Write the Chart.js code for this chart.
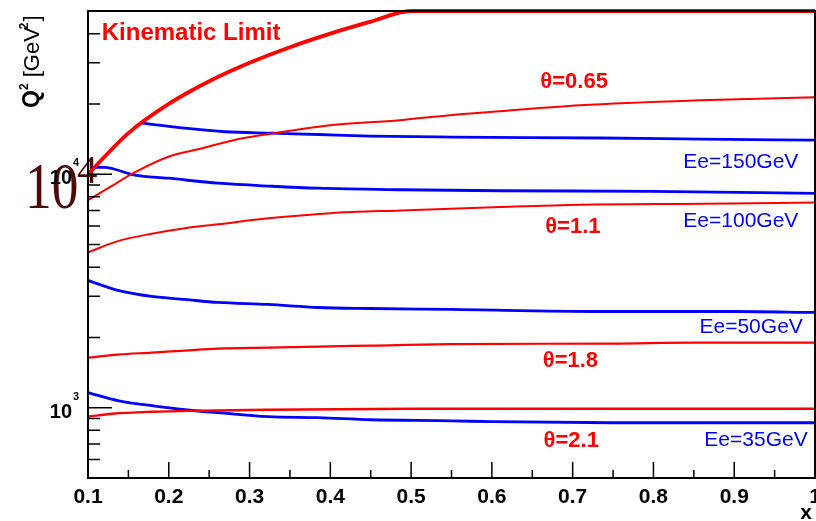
<!DOCTYPE html>
<html>
<head>
<meta charset="utf-8">
<script src="https://cdn.jsdelivr.net/npm/chart.js@4.4.0/dist/chart.umd.min.js"></script>
<style>
html,body{margin:0;padding:0;background:#fff;}
#wrap{width:816px;height:521px;position:relative;}
</style>
</head>
<body>
<div id="wrap"><canvas id="c" width="816" height="521"></canvas></div>
<script>
// ---- data (x = Bjorken x, values = Q^2 in GeV^2) ----
const xKin   = [0.1, 0.15, 0.2, 0.25, 0.3, 0.35, 0.4, 0.45, 0.5, 1.0];
const qKin   = [10000, 15000, 20000, 25000, 30000, 35000, 40000, 45000, 50000, 50000];

const xTh065 = [0.1, 0.127, 0.156, 0.198, 0.239, 0.28, 0.322, 0.363, 0.4, 0.486, 0.548, 0.61, 0.709, 0.858, 1.0];
const qTh065 = [7740, 8796, 10100, 11826, 12858, 13984, 14839, 15582, 16211, 17031, 17892, 18617, 19749, 20746, 21371];

const xTh11  = [0.1, 0.137, 0.179, 0.22, 0.261, 0.323, 0.4, 0.487, 0.611, 0.71, 0.86, 1.0];
const qTh11  = [4625, 5170, 5560, 5870, 6100, 6470, 6810, 7000, 7240, 7400, 7470, 7560];

const xTh18  = [0.1, 0.137, 0.179, 0.22, 0.261, 0.323, 0.385, 0.45, 0.55, 0.75, 0.85, 1.0];
const qTh18  = [1639, 1689, 1722, 1757, 1792, 1809, 1827, 1845, 1873, 1883, 1901, 1901];

const xTh21  = [0.1, 0.13, 0.18, 0.24, 0.32, 0.5, 1.0];
const qTh21  = [915, 942, 961, 971, 980, 990, 990];

const xE150  = [0.167, 0.22, 0.27, 0.328, 0.385, 0.45, 0.55, 0.735, 0.86, 1.0];
const qE150  = [16560, 15750, 15200, 14990, 14790, 14560, 14420, 14290, 14140, 13990];

const xE100  = [0.105, 0.12, 0.158, 0.199, 0.261, 0.328, 0.385, 0.487, 0.611, 0.797, 1.0];
const qE100  = [10700, 10700, 9900, 9612, 9150, 8880, 8710, 8580, 8495, 8450, 8285];

const xE50   = [0.1, 0.137, 0.179, 0.22, 0.261, 0.323, 0.385, 0.45, 0.55, 0.735, 0.9, 1.0];
const qE50   = [3510, 3180, 2995, 2908, 2824, 2768, 2686, 2660, 2635, 2583, 2583, 2558];

const xE35   = [0.1, 0.137, 0.179, 0.22, 0.261, 0.323, 0.385, 0.45, 0.55, 0.6, 0.75, 1.0];
const qE35   = [1160, 1072, 1020, 980, 952, 915, 906, 888, 879, 871, 862, 862];

const xTickLabels = ['0.1','0.2','0.3','0.4','0.5','0.6','0.7','0.8','0.9','1'];
const xTickValues = [0.1,0.2,0.3,0.4,0.5,0.6,0.7,0.8,0.9,1.0];
const yTickValues = [1000, 10000];
const yTickExps   = ['3', '4'];

// curve labels: text, anchor x value, anchor Q^2 value (text baseline, left edge)
const labelTexts = ['Kinematic Limit','θ=0.65','Ee=150GeV','θ=1.1','Ee=100GeV','Ee=50GeV','θ=1.8','θ=2.1','Ee=35GeV'];
const labelX     = [0.117, 0.66, 0.837, 0.666, 0.837, 0.857, 0.663, 0.664, 0.863];
const labelQ     = [37530, 23340, 10610, 5588, 5930, 2084, 1491, 677, 684];
const labelColor = ['red','red','blue','red','blue','blue','red','red','blue'];

const RED = '#ff0000', BLUE = '#0000ff';
function pts(xs, qs){ return xs.map((x,i)=>({x:x, y:qs[i]})); }

function ds(xs, qs, color, w){
  return {data: pts(xs,qs), borderColor: color, backgroundColor: color, borderWidth: w,
          showLine: true, pointRadius: 0, cubicInterpolationMode: 'monotone', fill: false, clip: false};
}

const SANS = '"Liberation Sans", Arial, Helvetica, sans-serif';
const SERIF = '"Liberation Serif", "Times New Roman", serif';

const rootStyle = {
  id: 'rootStyle',
  beforeDraw(chart){
    const ctx = chart.ctx, y = chart.scales.y;
    // large overlaid serif "10^4"
    ctx.save();
    ctx.fillStyle = '#4f0a0a';
    const py = y.getPixelForValue(10000);
    ctx.save();
    ctx.translate(25, py + 34);
    ctx.scale(0.82, 1);
    ctx.font = '65px ' + SERIF;
    ctx.textBaseline = 'alphabetic';
    ctx.fillText('10', 0, 0);
    ctx.restore();
    ctx.font = '41px ' + SERIF;
    ctx.fillText('4', 77, py + 9);
    ctx.restore();
  },
  afterDraw(chart){
    const ctx = chart.ctx, a = chart.chartArea, xs = chart.scales.x, ys = chart.scales.y;
    ctx.save();
    // frame
    ctx.strokeStyle = '#000'; ctx.lineWidth = 2;
    ctx.strokeRect(a.left, a.top, a.right - a.left, a.bottom - a.top);
    // x ticks (inside)
    ctx.lineWidth = 1.5;
    ctx.beginPath();
    for (let i = 0; i < xTickValues.length; i++){
      const p = xs.getPixelForValue(xTickValues[i]);
      ctx.moveTo(p, a.bottom); ctx.lineTo(p, a.bottom - 16);
      if (i < xTickValues.length - 1){
        const m = xs.getPixelForValue(xTickValues[i] + 0.05);
        ctx.moveTo(m, a.bottom); ctx.lineTo(m, a.bottom - 8);
      }
    }
    // y ticks (inside)
    const minors = [600,700,800,900,2000,3000,4000,5000,6000,7000,8000,9000,20000,30000,40000];
    minors.forEach(v => { const p = ys.getPixelForValue(v); ctx.moveTo(a.left, p); ctx.lineTo(a.left + 12, p); });
    yTickValues.forEach(v => { const p = ys.getPixelForValue(v); ctx.moveTo(a.left, p); ctx.lineTo(a.left + 24, p); });
    ctx.stroke();

    // x tick labels
    ctx.fillStyle = '#000';
    ctx.font = 'bold 21px ' + SANS;
    ctx.textAlign = 'center'; ctx.textBaseline = 'alphabetic';
    xTickLabels.forEach((t,i) => ctx.fillText(t, xs.getPixelForValue(xTickValues[i]), 503));
    // x title
    ctx.textAlign = 'right';
    ctx.fillText('x', 812, 519);

    // y tick labels 10^n
    yTickValues.forEach((v,i) => {
      const p = ys.getPixelForValue(v);
      ctx.font = 'bold 20px ' + SANS; ctx.textAlign = 'right';
      ctx.fillText('10', 72, p + 10);
      ctx.font = 'bold 11px ' + SANS; ctx.textAlign = 'left';
      ctx.fillText(yTickExps[i], 73, p - 8);
    });

    // y title  Q^2 [GeV^2]
    ctx.save();
    ctx.translate(39, 108);
    ctx.rotate(-Math.PI/2);
    ctx.textAlign = 'left';
    let cx = 0;
    ctx.font = 'bold 23px ' + SANS; ctx.fillText('Q', cx, 0); cx += ctx.measureText('Q').width;
    ctx.font = 'bold 12px ' + SANS; ctx.fillText('2', cx, -11); cx += ctx.measureText('2').width;
    ctx.font = '22px ' + SANS; ctx.fillText(' [GeV', cx, 0); cx += ctx.measureText(' [GeV').width;
    ctx.font = 'bold 12px ' + SANS; ctx.fillText('2', cx - 2, -11); cx += ctx.measureText('2').width - 1;
    ctx.font = '22px ' + SANS; ctx.fillText(']', cx, 0);
    ctx.restore();

    // curve labels
    ctx.textAlign = 'left';
    labelTexts.forEach((t,i) => {
      const px = xs.getPixelForValue(labelX[i]), py = ys.getPixelForValue(labelQ[i]);
      if (i === 0) ctx.font = 'bold 24px ' + SANS;
      else if (labelColor[i] === 'red') ctx.font = 'bold 22px ' + SANS;
      else ctx.font = '21px ' + SANS;
      ctx.fillStyle = labelColor[i] === 'red' ? RED : BLUE;
      ctx.fillText(t, px, py);
    });
    ctx.restore();
  }
};

new Chart(document.getElementById('c'), {
  type: 'scatter',
  data: { datasets: [
    ds(xKin, qKin, RED, 3.8),
    ds(xTh065, qTh065, RED, 2),
    ds(xTh11, qTh11, RED, 2),
    ds(xTh18, qTh18, RED, 2.2),
    ds(xTh21, qTh21, RED, 2.4),
    ds(xE150, qE150, BLUE, 2.8),
    ds(xE100, qE100, BLUE, 2.8),
    ds(xE50, qE50, BLUE, 2.8),
    ds(xE35, qE35, BLUE, 2.8)
  ]},
  options: {
    responsive: false, animation: false, devicePixelRatio: 1,
    layout: { padding: { left: 88, right: 1, top: 11, bottom: 43 } },
    plugins: { legend: { display: false }, tooltip: { enabled: false } },
    scales: {
      x: { type: 'linear', min: 0.1, max: 1.0, display: false },
      y: { type: 'logarithmic', min: 500, max: 50000, display: false }
    }
  },
  plugins: [rootStyle]
});
</script>
</body>
</html>
